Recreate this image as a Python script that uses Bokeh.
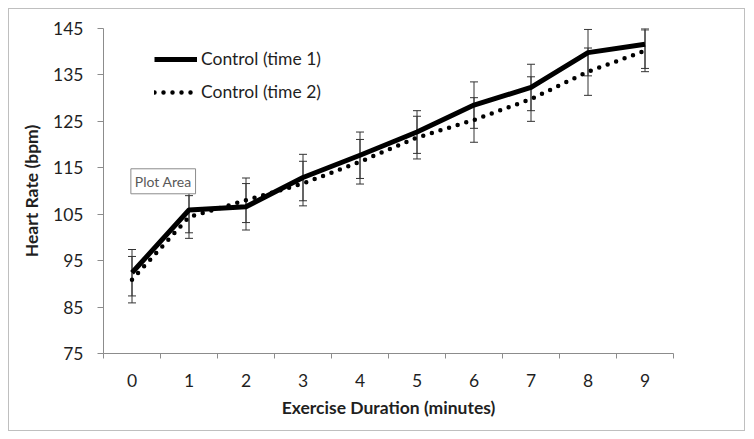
import numpy as np
from bokeh.plotting import figure
from bokeh.models import (ColumnDataSource, FixedTicker, Whisker, TeeHead,
                          Legend, LegendItem, Label, Range1d)
from bokeh.embed import file_html
from bokeh.resources import INLINE

# ---- data ----
minutes = [0, 1, 2, 3, 4, 5, 6, 7, 8, 9]
time1 = [92.4, 105.9, 106.6, 112.9, 117.7, 122.7, 128.5, 132.3, 139.8, 141.6]
time1_err = [5.0, 4.9, 5.0, 5.0, 5.0, 4.6, 5.0, 5.0, 5.0, 5.2]
time2 = [90.9, 104.4, 108.0, 111.6, 116.3, 121.5, 125.3, 129.8, 135.7, 140.2]
time2_err = [5.0, 4.6, 4.8, 4.8, 4.8, 4.6, 4.8, 4.8, 5.1, 4.5]
y_ticks = [75, 85, 95, 105, 115, 125, 135, 145]
series_labels = ["Control (time 1)", "Control (time 2)"]
x_title = "Exercise Duration (minutes)"
y_title = "Heart Rate (bpm)"

Y_MIN, Y_MAX = y_ticks[0], y_ticks[-1]
FONT = "Lato"
TEXT = "#1f1f1f"
AXIS = "#8c8c8c"
ERR = "#333333"

p = figure(frame_width=570, frame_height=325,
           x_range=Range1d(minutes[0] - 0.5, minutes[-1] + 0.5),
           y_range=Range1d(Y_MIN, Y_MAX),
           output_backend="svg", toolbar_location=None,
           min_border_left=94, min_border_right=71,
           min_border_top=19, min_border_bottom=77)
p.styles = {"border": "1px solid #bfbfbf", "margin": "8px 0 0 8px"}
p.outline_line_color = None
p.xgrid.visible = False
p.ygrid.visible = False
p.background_fill_color = "white"
p.border_fill_color = "white"

# error bars
def add_err(ys, errs):
    ys = np.array(ys, dtype=float)
    errs = np.array(errs, dtype=float)
    src = ColumnDataSource(dict(x=minutes,
                                upper=np.minimum(ys + errs, Y_MAX),
                                lower=np.maximum(ys - errs, Y_MIN)))
    w = Whisker(source=src, base="x", upper="upper", lower="lower",
                dimension="height", line_color=ERR, line_width=1,
                upper_head=TeeHead(size=8, line_color=ERR, line_width=1),
                lower_head=TeeHead(size=8, line_color=ERR, line_width=1),
                level="underlay")
    p.add_layout(w)

add_err(time1, time1_err)
add_err(time2, time2_err)

r1 = p.line(minutes, time1, line_color="black", line_width=5,
            line_join="round")
r2 = p.line(minutes, time2, line_color="black", line_width=4.5,
            line_dash="0 9", line_cap="round")

legend = Legend(items=[LegendItem(label=series_labels[0], renderers=[r1]),
                       LegendItem(label=series_labels[1], renderers=[r2])],
                location=(51, 251), padding=0, margin=0, spacing=12,
                glyph_width=43, glyph_height=20, label_height=20,
                label_standoff=4, border_line_color=None,
                background_fill_alpha=0,
                label_text_font=FONT, label_text_font_size="17.5px",
                label_text_color=TEXT)
p.add_layout(legend)

# x axis
xa = p.xaxis[0]
xa.ticker = FixedTicker(ticks=minutes,
                        minor_ticks=[m - 0.5 for m in minutes] + [minutes[-1] + 0.5])
xa.major_tick_line_color = None
xa.minor_tick_line_color = AXIS
xa.minor_tick_out = 5
xa.minor_tick_in = 0
xa.axis_line_color = AXIS
xa.major_label_text_font = FONT
xa.major_label_text_font_size = "17.5px"
xa.major_label_text_color = TEXT
xa.major_label_standoff = 14
xa.axis_label = x_title
xa.axis_label_text_font = FONT
xa.axis_label_text_font_style = "bold"
xa.axis_label_text_font_size = "17.5px"
xa.axis_label_text_color = TEXT
xa.axis_label_standoff = 7

# y axis
ya = p.yaxis[0]
ya.ticker = FixedTicker(ticks=y_ticks)
ya.major_tick_line_color = AXIS
ya.major_tick_out = 6
ya.major_tick_in = 0
ya.minor_tick_line_color = None
ya.axis_line_color = AXIS
ya.major_label_text_font = FONT
ya.major_label_text_font_size = "17.5px"
ya.major_label_text_color = TEXT
ya.major_label_standoff = 14
ya.axis_label = y_title
ya.axis_label_text_font = FONT
ya.axis_label_text_font_style = "bold"
ya.axis_label_text_font_size = "17.5px"
ya.axis_label_text_color = TEXT
ya.axis_label_standoff = 8

# Excel "Plot Area" hover tip seen in the reference
tip = Label(x=-0.02, y=109.4, text="Plot Area", text_font=FONT,
            text_font_size="14px", text_color="#595959",
            border_line_color="#8c8c8c", background_fill_color="white",
            padding=4)
p.add_layout(tip)

open("out.html", "w").write(file_html(p, INLINE))
